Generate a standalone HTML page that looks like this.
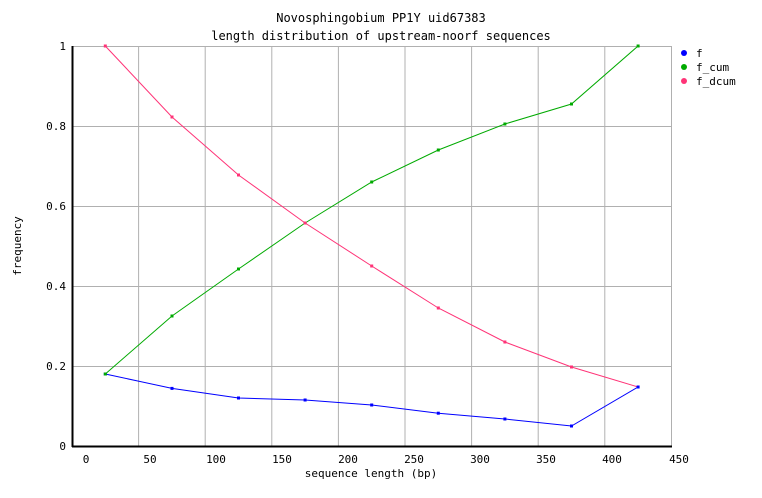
<!DOCTYPE html>
<html><head><meta charset="utf-8"><style>body{margin:0;background:#fff}svg{display:block}</style></head><body>
<svg width="762" height="498" xmlns="http://www.w3.org/2000/svg" font-family="'DejaVu Sans Mono','Liberation Mono',monospace" font-size="11">
<rect width="762" height="498" fill="#fff"/>
<g stroke="#b0b0b0" stroke-width="1">
<line x1="138.6" y1="46" x2="138.6" y2="446"/><line x1="205.2" y1="46" x2="205.2" y2="446"/><line x1="271.8" y1="46" x2="271.8" y2="446"/><line x1="338.4" y1="46" x2="338.4" y2="446"/><line x1="405" y1="46" x2="405" y2="446"/><line x1="471.6" y1="46" x2="471.6" y2="446"/><line x1="538.2" y1="46" x2="538.2" y2="446"/><line x1="604.8" y1="46" x2="604.8" y2="446"/><line x1="671.5" y1="46" x2="671.5" y2="446"/>
<line x1="72" y1="46.5" x2="672" y2="46.5"/><line x1="72" y1="126.5" x2="672" y2="126.5"/><line x1="72" y1="206.5" x2="672" y2="206.5"/><line x1="72" y1="286.5" x2="672" y2="286.5"/><line x1="72" y1="366.5" x2="672" y2="366.5"/>
</g>
<g stroke="#000" stroke-width="2"><line x1="72.5" y1="46" x2="72.5" y2="447"/><line x1="72" y1="446.5" x2="672" y2="446.5"/></g>
<g text-anchor="end" fill="#000"><text x="66" y="50">1</text><text x="66" y="130">0.8</text><text x="66" y="210">0.6</text><text x="66" y="290">0.4</text><text x="66" y="370">0.2</text><text x="66" y="450">0</text></g>
<g text-anchor="middle" fill="#000"><text x="86" y="463">0</text><text x="150" y="463">50</text><text x="216" y="463">100</text><text x="282" y="463">150</text><text x="348" y="463">200</text><text x="414" y="463">250</text><text x="480" y="463">300</text><text x="546" y="463">350</text><text x="612" y="463">400</text><text x="679" y="463">450</text>
<text x="381" y="22" font-size="12">Novosphingobium PP1Y uid67383</text><text x="381" y="40" font-size="12">length distribution of upstream-noorf sequences</text>
<text x="371" y="477">sequence length (bp)</text>
<text transform="translate(21,246) rotate(-90)">frequency</text></g>
<polyline fill="none" stroke="#0000ff" points="105.3,374 172,388.4 238.5,398 305.1,400 371.7,405 438.3,413.2 504.9,419 571.5,426 638.1,387"/>
<polyline fill="none" stroke="#00aa00" points="105.3,374 172,316 238.5,269 305.1,223 371.7,182 438.3,150 504.9,124 571.5,104 638.1,46"/>
<polyline fill="none" stroke="#ff3377" points="105.3,46 172,117 238.5,175 305.1,223 371.7,266 438.3,308 504.9,342 571.5,367 638.1,387"/>
<g fill="#0000ff"><rect x="103.8" y="372.5" width="3" height="3"/><rect x="170.5" y="386.9" width="3" height="3"/><rect x="237" y="396.5" width="3" height="3"/><rect x="303.6" y="398.5" width="3" height="3"/><rect x="370.2" y="403.5" width="3" height="3"/><rect x="436.8" y="411.7" width="3" height="3"/><rect x="503.4" y="417.5" width="3" height="3"/><rect x="570" y="424.5" width="3" height="3"/><rect x="636.6" y="385.5" width="3" height="3"/></g>
<g fill="#00aa00"><rect x="103.8" y="372.5" width="3" height="3"/><rect x="170.5" y="314.5" width="3" height="3"/><rect x="237" y="267.5" width="3" height="3"/><rect x="303.6" y="221.5" width="3" height="3"/><rect x="370.2" y="180.5" width="3" height="3"/><rect x="436.8" y="148.5" width="3" height="3"/><rect x="503.4" y="122.5" width="3" height="3"/><rect x="570" y="102.5" width="3" height="3"/><rect x="636.6" y="44.5" width="3" height="3"/></g>
<g fill="#ff3377"><rect x="103.8" y="44.5" width="3" height="3"/><rect x="170.5" y="115.5" width="3" height="3"/><rect x="237" y="173.5" width="3" height="3"/><rect x="303.6" y="221.5" width="3" height="3"/><rect x="370.2" y="264.5" width="3" height="3"/><rect x="436.8" y="306.5" width="3" height="3"/><rect x="503.4" y="340.5" width="3" height="3"/><rect x="570" y="365.5" width="3" height="3"/></g>
<circle cx="684" cy="53" r="3" fill="#0000ff"/><circle cx="684" cy="67" r="3" fill="#00aa00"/><circle cx="684" cy="81" r="3" fill="#ff3377"/>
<g fill="#000"><text x="696" y="57">f</text><text x="696" y="71">f_cum</text><text x="696" y="85">f_dcum</text></g>
</svg>
</body></html>
